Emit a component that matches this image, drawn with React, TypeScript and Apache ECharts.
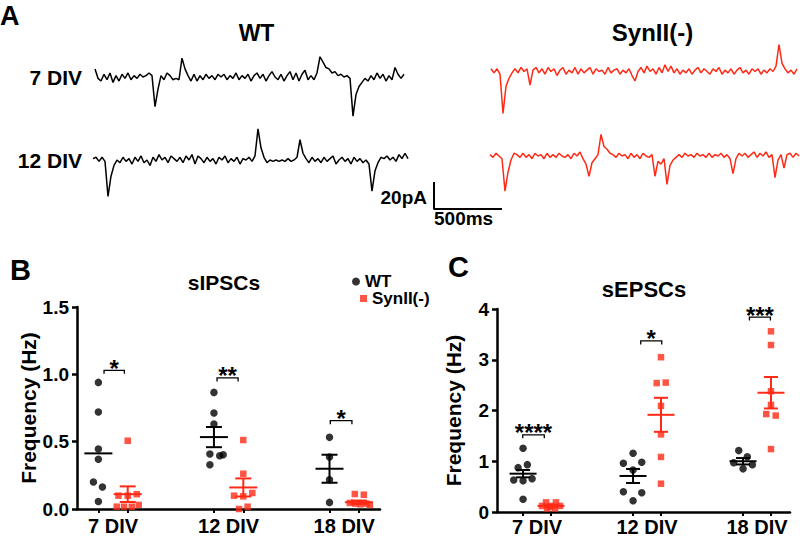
import React, { useEffect, useRef } from 'react';
import * as echarts from 'echarts';

// ---------- data ----------
const categories = ['7 DIV', '12 DIV', '18 DIV'];
const SAMPLE_MS = 22; // sampling step of the traces (ms)

// current traces (pA, relative to baseline)
const traceWT7 = [
  6, -1, -3, 2, -2, 3, -4, 1, -3, 2,
  -1, 3, -2, 1, -1, 2, 0, 1, 3, 1,
  -22, -9, 1, -2, 3, 1, -2, -1, -2, 14,
  6, 1, -3, 2, -3, 1, -2, 2, -1, 1,
  -2, 2, 0, 2, -2, 1, -1, 3, -2, 1,
  -1, 2, -3, 1, 3, -1, 2, -3, 1, 4,
  0, -2, 2, -3, 1, 4, -2, 3, -3, 2,
  5, -2, 1, -2, 3, 15, 11, 7, 6, 3,
  4, 1, 2, 0, 1, -1, -29, -13, -7, -4,
  -1, -3, 1, -2, 3, -1, 2, -3, 1, -2,
  7, 2, -1, 2,
];
const traceWT12 = [
  1, 2, -1, 2, -1, -27, -12, -4, 0, -2,
  2, -1, 1, -3, 2, -1, 3, -2, 0, -4,
  2, -1, 4, 0, 2, -2, 3, 1, -1, 2,
  -2, 3, 0, 4, -3, 3, 1, -2, 2, -1,
  1, -3, 2, 0, 3, -2, 1, -1, 2, -3,
  1, 0, 2, -1, 3, 23, 9, 2, -2, 0,
  -1, 0, -1, 0, -1, 1, -1, 0, 2, 15,
  5, 1, -2, 2, -1, 1, -2, 2, -1, 1,
  3, -3, 0, 2, -1, 1, -3, 2, -1, 1,
  -2, 0, -3, -23, -8, -2, 2, 1, 3, 0,
  2, -1, 4, 1, 5, 1,
];
const traceKO7 = [
  2, -1, 2, -2, -31, -11, -5, -1, 2, -1,
  3, 0, 2, -10, 1, 3, -1, 2, -2, 3,
  0, 2, -3, 1, 3, -2, 1, -1, 3, -2,
  2, -1, 1, 3, -2, 2, 0, 1, -2, 3,
  -1, 1, 2, -2, 1, -1, 2, -3, -7, 0,
  3, -1, 4, 0, 2, -2, 3, -1, 5, 0,
  4, -1, 2, -2, 1, -1, 2, -2, 1, 3,
  -1, 2, 0, -2, 2, 0, 3, -2, 1, -1,
  2, -2, 1, 3, -1, 1, -2, 2, 0, 2,
  -2, 1, -1, 2, 0, 4, 20, 6, 2, -1,
  1, -2, 2,
];
const traceKO12 = [
  1, -1, 2, 0, -2, -26, -12, -3, 2, 1,
  -1, 2, -1, 1, -2, 2, 0, 1, -2, 2,
  -1, 1, -1, 2, 0, -1, 1, -2, 2, 0,
  3, -2, -6, -15, -5, -2, 1, 16, 7, 5,
  2, 1, -1, 2, 0, 1, -2, 2, -1, 1,
  -2, 2, 0, -1, 1, -15, -4, -6, -2, -21,
  -7, -3, -1, 1, -1, 2, 0, 1, -1, 2,
  0, 1, -1, 2, -1, 1, 0, 2, -1, 1,
  -2, -13, -2, 2, 0, 2, -1, 1, 3, -1,
  2, 0, 3, -1, 1, -16, -3, 1, -9, 1,
  2, -1, 2, 0,
];
const scaleBar = [[0, 20], [0, 0], [500, 0]]; // 20 pA, 500 ms

// sIPSCs (Hz)
const ipscWT = [
  [0.94, 0.72, 0.445, 0.37, 0.2, 0.163, 0.056],
  [0.866, 0.713, 0.631, 0.408, 0.396, 0.403, 0.329],
  [0.532, 0.386, 0.218, 0.049],
];
const ipscWTJitter = [
  [0, 0, 0, 0, -0.043, 0.035, 0],
  [0, 0, 0, -0.035, 0.05, 0.08, -0.035],
  [0, 0, 0, 0],
];
const ipscKO = [
  [0.507, 0.099, 0.099, 0.11, 0.017, 0.017, 0.017, 0.03],
  [0.512, 0.262, 0.099, 0.094, 0.119, 0, 0.017],
  [0.111, 0.106, 0.045, 0.04, 0.035, 0.04, 0.03],
];
const ipscKOJitter = [
  [0, -0.08, 0, 0.078, -0.095, -0.032, 0.035, 0.095],
  [0, 0, -0.08, 0, 0.078, -0.037, 0.037],
  [-0.035, 0.043, -0.078, -0.029, 0.015, 0.067, 0.095],
];
const ipscWTMean = [0.413, 0.534, 0.299];
const ipscWTSem = [0, 0.075, 0.104];
const ipscKOMean = [0.11, 0.16, 0.05];
const ipscKOSem = [0.058, 0.067, 0.013];
const ipscBrackets = [[0.922, 1.098, 1.03], [1.9, 2.082, 0.973], [2.88, 3.067, 0.656]];
const ipscSig = ['*', '**', '*'];

// sEPSCs (Hz)
const epscWT = [
  [1.256, 0.874, 0.933, 0.631, 0.617, 0.657, 0.25],
  [1.157, 0.96, 0.98, 0.828, 0.4, 0.38, 0.223],
  [1.21, 1.09, 0.97, 0.93, 0.85],
];
const epscWTJitter = [
  [0, -0.045, 0.039, -0.085, 0, 0.082, 0],
  [0, -0.088, 0.079, 0, -0.088, 0.079, 0],
  [-0.039, 0.039, -0.085, 0.085, 0],
];
const epscKO = [
  [0.19, 0.19, 0.12, 0.12, 0.12, 0.07, 0.07, 0.1],
  [3.05, 2.54, 2.55, 2.09, 1.53, 1.085, 0.558],
  [3.56, 3.29, 2.38, 2.11, 1.93, 1.9, 1.24],
];
const epscKOJitter = [
  [-0.045, 0.045, -0.082, 0, 0.082, -0.036, 0.036, -0.01],
  [0, -0.039, 0.043, 0, 0, 0, 0],
  [0, 0, 0, 0, -0.043, 0.043, 0],
];
const epscWTMean = [0.755, 0.71, 1.0];
const epscWTSem = [0.072, 0.138, 0.063];
const epscKOMean = [0.12, 1.915, 2.35];
const epscKOSem = [0.02, 0.335, 0.31];
const epscBrackets = [[0.87, 1.066, 1.52], [1.943, 2.134, 3.37], [2.931, 3.122, 3.84]];
const epscSig = ['****', '*', '***'];

// ---------- styling / layout ----------
const FONT = 'Arial, "Liberation Sans", Helvetica, sans-serif';
const RED = '#ff2a16';
const BLACK = '#000000';
const GROUP_OFF = 0.127;
const PX_PER_PA = 1.35;
const PX_PER_SAMPLE = 3;

function traceGrid(left: number, baseline: number, n: number) {
  return {
    left,
    top: baseline - 30 * PX_PER_PA,
    width: (n - 1) * PX_PER_SAMPLE,
    height: 75 * PX_PER_PA,
    outerBoundsMode: 'none',
  };
}

function scatterData(vals: number[][], jit: number[][], side: number) {
  const out: number[][] = [];
  vals.forEach((g, gi) =>
    g.forEach((v, k) => out.push([gi + 1 + side * GROUP_OFF + jit[gi][k], v]))
  );
  return out;
}

function errData(mean: number[], sem: number[], side: number) {
  return mean.map((m, gi) => [gi + 1 + side * GROUP_OFF, m, sem[gi]]);
}

function errRender(color: string, meanHalf: number, capHalf: number) {
  return (params: any, api: any) => {
    const x = api.value(0);
    const m = api.value(1);
    const s = api.value(2);
    const c = api.coord([x, m]);
    const st = { stroke: color, lineWidth: 2 };
    const children: any[] = [
      { type: 'line', shape: { x1: c[0] - meanHalf, y1: c[1], x2: c[0] + meanHalf, y2: c[1] }, style: st },
    ];
    if (s > 0) {
      const t = api.coord([x, m + s]);
      const b = api.coord([x, m - s]);
      children.push({ type: 'line', shape: { x1: t[0], y1: t[1], x2: b[0], y2: b[1] }, style: st });
      children.push({ type: 'line', shape: { x1: t[0] - capHalf, y1: t[1], x2: t[0] + capHalf, y2: t[1] }, style: st });
      children.push({ type: 'line', shape: { x1: b[0] - capHalf, y1: b[1], x2: b[0] + capHalf, y2: b[1] }, style: st });
    }
    return { type: 'group', children };
  };
}

function bracketRender(labels: string[]) {
  return (params: any, api: any) => {
    const p1 = api.coord([api.value(0), api.value(2)]);
    const p2 = api.coord([api.value(1), api.value(2)]);
    return {
      type: 'group',
      children: [
        {
          type: 'polyline',
          shape: { points: [[p1[0], p1[1] + 3.5], [p1[0], p1[1]], [p2[0], p2[1]], [p2[0], p2[1] + 3.5]] },
          style: { stroke: BLACK, lineWidth: 1.3, fill: 'none' },
        },
        {
          type: 'text',
          x: (p1[0] + p2[0]) / 2,
          y: p1[1] - 2,
          style: {
            text: labels[params.dataIndex],
            font: `bold 24px ${FONT}`,
            fill: BLACK,
            align: 'center',
            verticalAlign: 'middle',
          },
        },
      ],
    };
  };
}

function panelXAxis(gridIndex: number, min: number, max: number, margin: number) {
  const ticks: number[] = [];
  categories.forEach((_, i) => ticks.push(i + 1 - GROUP_OFF, i + 1 + GROUP_OFF));
  return {
    type: 'value',
    gridIndex,
    min,
    max,
    axisLine: { show: true, onZero: false, lineStyle: { color: BLACK, width: 2.5 } },
    axisTick: { show: true, customValues: ticks, length: 4, lineStyle: { color: BLACK, width: 2 } },
    axisLabel: {
      customValues: [1, 2, 3],
      formatter: (v: number) => categories[Math.round(v) - 1],
      fontSize: 20,
      fontWeight: 'bold',
      fontFamily: FONT,
      color: BLACK,
      margin,
    },
    splitLine: { show: false },
  };
}

function panelYAxis(gridIndex: number, max: number, interval: number, digits: number) {
  return {
    type: 'value',
    gridIndex,
    min: 0,
    max,
    interval,
    name: 'Frequency (Hz)',
    nameLocation: 'middle',
    nameGap: 33,
    nameTextStyle: { fontSize: 21, fontWeight: 'bold', fontFamily: FONT, color: BLACK },
    axisLine: { show: true, onZero: false, lineStyle: { color: BLACK, width: 2.5 } },
    axisTick: { show: true, length: 5, lineStyle: { color: BLACK, width: 2.5 } },
    axisLabel: {
      formatter: (v: number) => v.toFixed(digits),
      fontSize: 19,
      fontWeight: 'bold',
      fontFamily: FONT,
      color: BLACK,
      margin: 8,
    },
    splitLine: { show: false },
  };
}

const hiddenAxis = (gridIndex: number, min: number, max: number) => ({
  type: 'value',
  gridIndex,
  min,
  max,
  show: false,
  splitLine: { show: false },
});

function traceSeries(data: number[], idx: number, color: string) {
  return {
    type: 'line',
    xAxisIndex: idx,
    yAxisIndex: idx,
    data: data.map((v, k) => [k * SAMPLE_MS, v]),
    symbol: 'none',
    showSymbol: false,
    clip: false,
    silent: true,
    lineStyle: { color, width: 1.5 },
  };
}

function buildOption() {
  const traces = [traceWT7, traceWT12, traceKO7, traceKO12];
  const grids: any[] = [
    traceGrid(95, 77, traceWT7.length),
    traceGrid(93, 160, traceWT12.length),
    traceGrid(491, 71.5, traceKO7.length),
    traceGrid(490, 156, traceKO12.length),
    { left: 434, top: 182, width: 68, height: 27, outerBoundsMode: 'none' },
    { left: 77, top: 307, width: 303, height: 202, outerBoundsMode: 'none' },
    { left: 497, top: 309, width: 293, height: 203, outerBoundsMode: 'none' },
  ];
  const xAxis: any[] = traces.map((t, i) => hiddenAxis(i, 0, (t.length - 1) * SAMPLE_MS));
  xAxis.push(hiddenAxis(4, 0, 500));
  xAxis.push(panelXAxis(5, 0.688, 3.31, 7));
  xAxis.push(panelXAxis(6, 0.636, 3.3, 5));
  const yAxis: any[] = traces.map((_, i) => hiddenAxis(i, -45, 30));
  yAxis.push(hiddenAxis(4, 0, 20));
  yAxis.push(panelYAxis(5, 1.5, 0.5, 1));
  yAxis.push(panelYAxis(6, 4, 1, 0));

  const series: any[] = [
    traceSeries(traceWT7, 0, BLACK),
    traceSeries(traceWT12, 1, BLACK),
    traceSeries(traceKO7, 2, RED),
    traceSeries(traceKO12, 3, RED),
    {
      type: 'line',
      xAxisIndex: 4,
      yAxisIndex: 4,
      data: scaleBar,
      symbol: 'none',
      clip: false,
      silent: true,
      lineStyle: { color: BLACK, width: 2 },
    },
  ];

  const panels = [
    {
      ax: 5, wt: ipscWT, wtJ: ipscWTJitter, ko: ipscKO, koJ: ipscKOJitter,
      wtM: ipscWTMean, wtS: ipscWTSem, koM: ipscKOMean, koS: ipscKOSem,
      br: ipscBrackets, sig: ipscSig, mh: 14, ch: 8,
    },
    {
      ax: 6, wt: epscWT, wtJ: epscWTJitter, ko: epscKO, koJ: epscKOJitter,
      wtM: epscWTMean, wtS: epscWTSem, koM: epscKOMean, koS: epscKOSem,
      br: epscBrackets, sig: epscSig, mh: 13.5, ch: 7,
    },
  ];
  panels.forEach((p) => {
    series.push({
      name: 'WT', type: 'scatter', xAxisIndex: p.ax, yAxisIndex: p.ax,
      data: scatterData(p.wt, p.wtJ, -1), symbol: 'circle', symbolSize: 7.5,
      itemStyle: { color: BLACK }, clip: false, z: 2,
    });
    series.push({
      name: 'SynII(-)', type: 'scatter', xAxisIndex: p.ax, yAxisIndex: p.ax,
      data: scatterData(p.ko, p.koJ, 1), symbol: 'rect', symbolSize: 6.5,
      itemStyle: { color: RED }, clip: false, z: 2,
    });
    series.push({
      type: 'custom', xAxisIndex: p.ax, yAxisIndex: p.ax, coordinateSystem: 'cartesian2d',
      data: errData(p.wtM, p.wtS, -1), encode: { x: 0, y: 1 },
      renderItem: errRender(BLACK, p.mh, p.ch), z: 3, silent: true, clip: false,
    });
    series.push({
      type: 'custom', xAxisIndex: p.ax, yAxisIndex: p.ax, coordinateSystem: 'cartesian2d',
      data: errData(p.koM, p.koS, 1), encode: { x: 0, y: 1 },
      renderItem: errRender(RED, p.mh, p.ch), z: 3, silent: true, clip: false,
    });
    series.push({
      type: 'custom', xAxisIndex: p.ax, yAxisIndex: p.ax, coordinateSystem: 'cartesian2d',
      data: p.br, encode: { x: [0, 1], y: 2 },
      renderItem: bracketRender(p.sig), z: 3, silent: true, clip: false,
    });
  });

  const txt = (text: string, x: number, y: number, size: number, align = 'left') => ({
    type: 'text',
    x,
    y,
    silent: true,
    style: { text, font: `bold ${size}px ${FONT}`, fill: BLACK, align, verticalAlign: 'middle' },
  });

  const graphic = [
    txt('A', 0, 16, 27),
    txt('WT', 256.5, 33, 23, 'center'),
    txt('SynII(-)', 652.5, 32, 24, 'center'),
    txt('7 DIV', 82, 77, 21, 'right'),
    txt('12 DIV', 82, 160, 21, 'right'),
    txt('20pA', 427, 197, 19, 'right'),
    txt('500ms', 434, 218, 19, 'left'),
    txt('B', 10, 270, 29),
    txt('sIPSCs', 224, 282, 21, 'center'),
    txt('C', 448, 267, 29),
    txt('sEPSCs', 644, 289, 22, 'center'),
  ];

  const legendText = { fontSize: 17, fontWeight: 'bold', fontFamily: FONT, color: BLACK };
  return {
    animation: false,
    backgroundColor: '#ffffff',
    grid: grids,
    xAxis,
    yAxis,
    series,
    graphic,
    legend: [
      {
        data: [{ name: 'WT', icon: 'circle' }], left: 352, top: 273, itemWidth: 8, itemHeight: 8,
        textStyle: legendText, selectedMode: false, padding: 0,
      },
      {
        data: [{ name: 'SynII(-)', icon: 'rect' }], left: 360, top: 290, itemWidth: 7, itemHeight: 7,
        textStyle: legendText, selectedMode: false, padding: 0,
      },
    ],
  };
}

export default function App() {
  const ref = useRef<HTMLDivElement>(null);
  useEffect(() => {
    document.body.style.margin = '0';
    if (!ref.current) return;
    const chart = echarts.init(ref.current, null, { renderer: 'svg' });
    chart.setOption(buildOption() as any);
    return () => chart.dispose();
  }, []);
  return <div ref={ref} style={{ width: 800, height: 539 }} />;
}
